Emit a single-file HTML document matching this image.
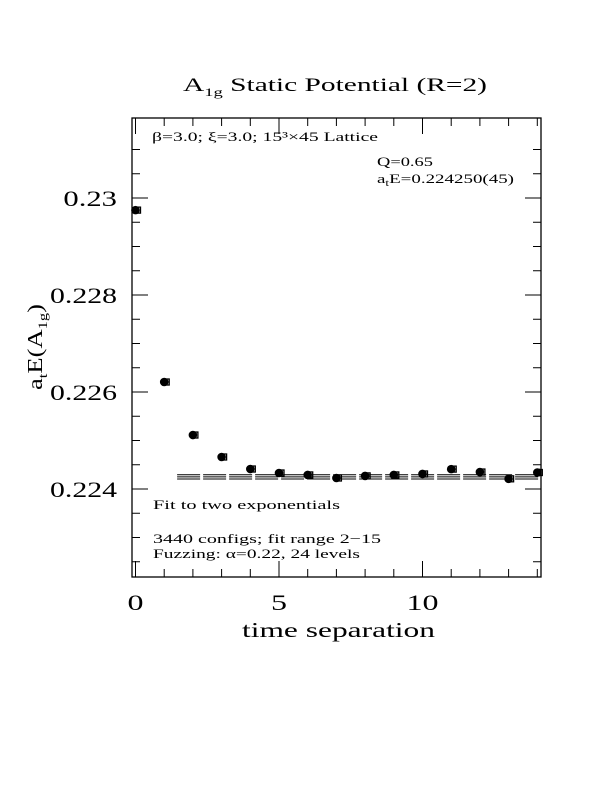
<!DOCTYPE html>
<html><head><meta charset="utf-8"><style>
html,body{margin:0;padding:0;background:#fff;}
svg text{font-family:"Liberation Serif",serif;fill:#000;}
</style></head><body>
<svg width="612" height="792" xmlns="http://www.w3.org/2000/svg">
<rect width="612" height="792" fill="#fff"/>
<text x="183" y="91" font-size="19" textLength="304" lengthAdjust="spacingAndGlyphs">A<tspan font-size="12" dy="5">1g</tspan><tspan dy="-5"> Static Potential (R=2)</tspan></text>
<g id="plot"></g>
<text x="152" y="141" font-size="13" textLength="226" lengthAdjust="spacingAndGlyphs">β=3.0; ξ=3.0; 15³×45 Lattice</text>
<text x="377" y="166" font-size="13" textLength="56" lengthAdjust="spacingAndGlyphs">Q=0.65</text>
<text x="377" y="183" font-size="13" textLength="137" lengthAdjust="spacingAndGlyphs">a<tspan font-size="9" dy="3">t</tspan><tspan dy="-3">E=0.224250(45)</tspan></text>
<text x="153" y="509" font-size="13" textLength="187" lengthAdjust="spacingAndGlyphs">Fit to two exponentials</text>
<text x="153" y="543" font-size="13" textLength="228" lengthAdjust="spacingAndGlyphs">3440 configs; fit range 2−15</text>
<text x="153" y="558" font-size="13" textLength="207" lengthAdjust="spacingAndGlyphs">Fuzzing: α=0.22, 24 levels</text>
<text x="242" y="637" font-size="21" textLength="193" lengthAdjust="spacingAndGlyphs">time separation</text>
<text transform="translate(42,390) rotate(-90)" font-size="21" textLength="86" lengthAdjust="spacingAndGlyphs">a<tspan font-size="13" dy="5">t</tspan><tspan dy="-5">E(A</tspan><tspan font-size="13" dy="5">1g</tspan><tspan dy="-5">)</tspan></text>
</svg>
<script>
const times=[0,1,2,3,4,5,6,7,8,9,10,11,12,13,14];
const energies=[0.22975,0.226206,0.225113,0.22466,0.224412,0.22433,0.22429,0.224227,0.22427,0.22429,0.22431,0.22441,0.22435,0.22421,0.22434];
const errors=[0.00003,0.00002,0.00002,0.00002,0.00002,0.00002,0.00002,0.00003,0.00002,0.00003,0.00003,0.00004,0.00004,0.00007,0.00008];
const fitValue=0.22425, fitErr=0.000045, fitStart=1.45;
const xTicks=[0,5,10], yTicks=[0.224,0.226,0.228,0.23];
const L=132,R=541,T=118,B=577;
const X=t=>135.5+t*28.7;
const Y=v=>489-(v-0.224)*48500;
const NS="http://www.w3.org/2000/svg";
const g=document.getElementById('plot');
function mk(tag,a){const e=document.createElementNS(NS,tag);for(const k in a)e.setAttribute(k,a[k]);g.appendChild(e);return e;}
let f=mk('rect',{x:L,y:T,width:R-L,height:B-T,fill:'none',stroke:'#000','stroke-width':1.3});


for(let t=0;t<=14;t++){const x=X(t),len=(t%5===0)?16:8;
 let a=mk('line',{x1:x,y1:B,x2:x,y2:B-len,stroke:'#000'});
 
 
 let b=mk('line',{x1:x,y1:T,x2:x,y2:T+len,stroke:'#000'});
 
 }
for(let i=-3;i<=14;i++){const v=0.224+i*0.0005,y=Y(v);if(y<T||y>B)continue;const len=(i%4===0)?16:8;
 let a=mk('line',{x1:L,y1:y,x2:L+len,y2:y,stroke:'#000'});
 
 
 let b=mk('line',{x1:R,y1:y,x2:R-len,y2:y,stroke:'#000'});
 
 }
xTicks.forEach(t=>{const s=String(t);let e=mk('text',{x:X(t)-s.length*8,y:610,'font-size':22,textLength:s.length*16,lengthAdjust:'spacingAndGlyphs'});e.textContent=s;
 
 });
yTicks.forEach(v=>{const s=String(v);const w=s.length*13.4;let e=mk('text',{x:117-w,y:Y(v)+8,'font-size':22,textLength:w,lengthAdjust:'spacingAndGlyphs'});e.textContent=s;
 
 });
[fitValue-fitErr,fitValue,fitValue+fitErr].forEach(v=>{let e=mk('line',{x1:X(fitStart),y1:Y(v),x2:R,y2:Y(v),stroke:'#000','stroke-width':1,'stroke-dasharray':'23 3'});
 
 });
times.forEach((t,i)=>{const x=X(t),y=Y(energies[i]),e=errors[i]*48500;
 let eb=mk('line',{x1:x+2,y1:y-e,x2:x+2,y2:y+e,stroke:'#000'});
 
 
 let sq=mk('rect',{x:x-1,y:y-3,width:6,height:6,fill:'none',stroke:'#000','stroke-width':1.3});
 
 
 let c=mk('circle',{cx:x,cy:y,r:4.3,fill:'#000'});
 
 });
</script>
</body></html>
